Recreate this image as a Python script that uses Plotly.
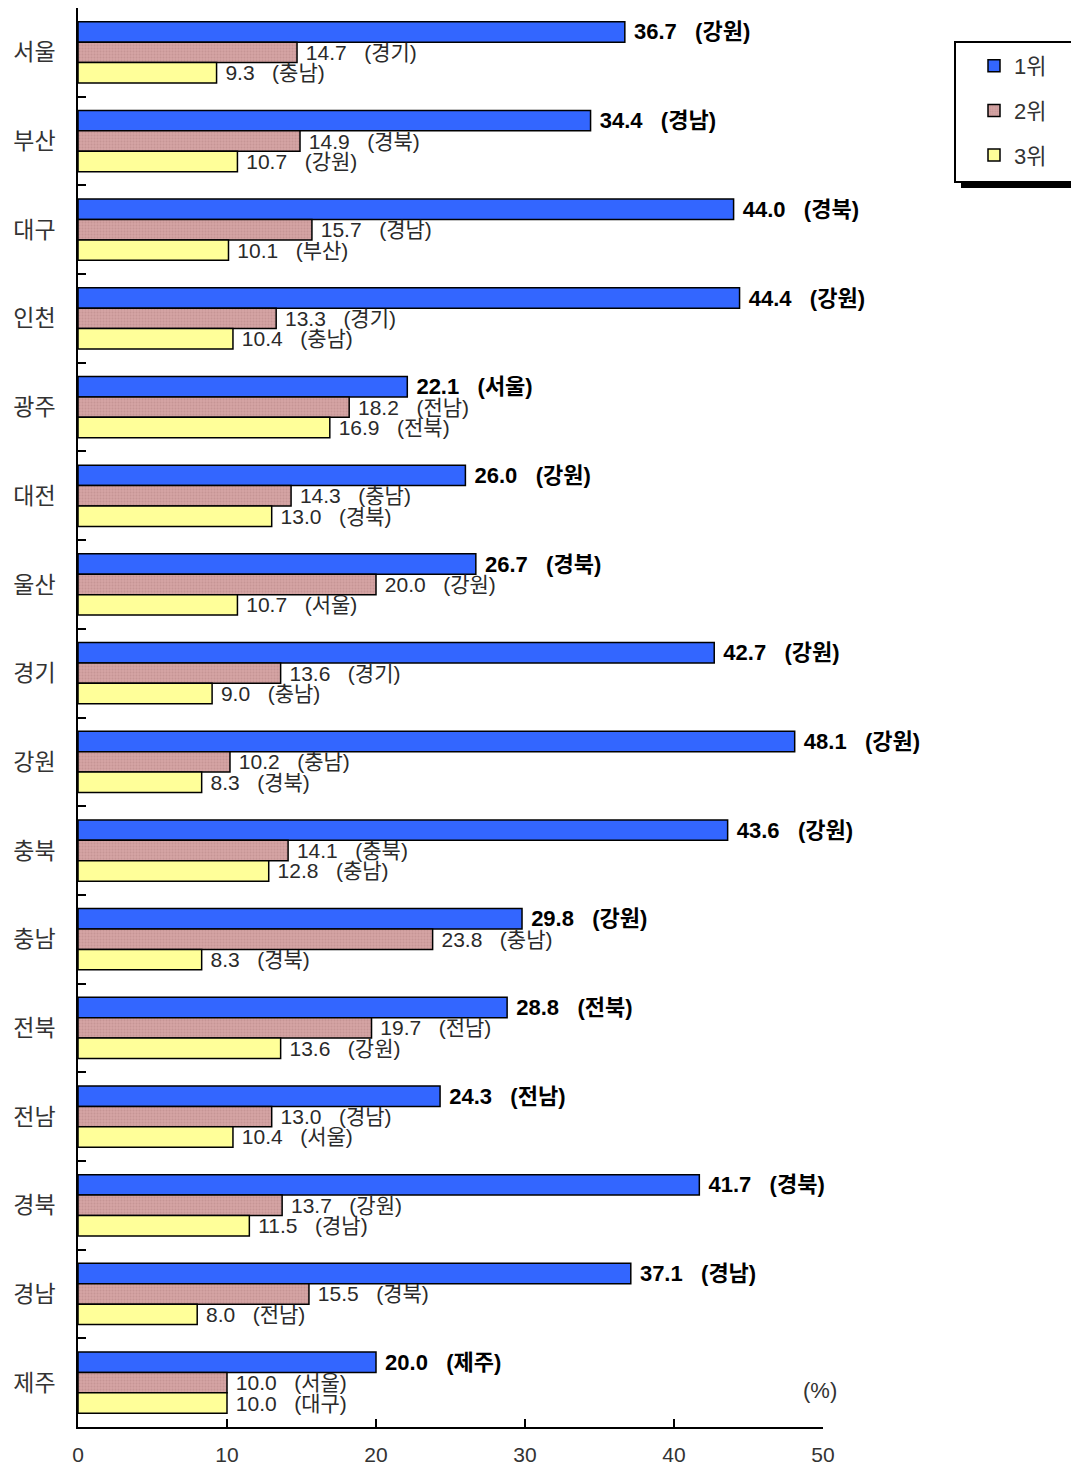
import plotly.graph_objects as go

regions = ["서울", "부산", "대구", "인천", "광주", "대전", "울산", "경기",
           "강원", "충북", "충남", "전북", "전남", "경북", "경남", "제주"]

rank1_vals = [36.7, 34.4, 44.0, 44.4, 22.1, 26.0, 26.7, 42.7, 48.1, 43.6, 29.8, 28.8, 24.3, 41.7, 37.1, 20.0]
rank1_dest = ["강원", "경남", "경북", "강원", "서울", "강원", "경북", "강원", "강원", "강원", "강원", "전북", "전남", "경북", "경남", "제주"]
rank2_vals = [14.7, 14.9, 15.7, 13.3, 18.2, 14.3, 20.0, 13.6, 10.2, 14.1, 23.8, 19.7, 13.0, 13.7, 15.5, 10.0]
rank2_dest = ["경기", "경북", "경남", "경기", "전남", "충남", "강원", "경기", "충남", "충북", "충남", "전남", "경남", "강원", "경북", "서울"]
rank3_vals = [9.3, 10.7, 10.1, 10.4, 16.9, 13.0, 10.7, 9.0, 8.3, 12.8, 8.3, 13.6, 10.4, 11.5, 8.0, 10.0]
rank3_dest = ["충남", "강원", "부산", "충남", "전북", "경북", "서울", "충남", "경북", "충남", "경북", "강원", "서울", "경남", "전남", "대구"]

series_names = ["1위", "2위", "3위"]
x_ticks = [0, 10, 20, 30, 40, 50]
unit_label = "(%)"

FONT = "Liberation Sans, Noto Sans CJK KR, sans-serif"

# page body has an 8px margin; figure sized to fit the 1079x1477 window exactly
OFF = 8
W, H = 1079 - 2 * OFF, 1477 - 2 * OFF
PL, PT, PR, PB = 78 - OFF, 8 - OFF, 823 - OFF, 1427 - OFF
L, T, R, B = PL, PT, W - PR, H - PB
pw, ph = PR - PL, PB - PT


def px_x(p):
    return (p - OFF - PL) / pw


def px_y(p):
    return (PB - (p - OFF)) / ph


NB = "\u00a0"

fig = go.Figure()

series = [
    (rank1_vals, rank1_dest, "#3366FF", True),
    (rank2_vals, rank2_dest, "#D4A3A3", False),
    (rank3_vals, rank3_dest, "#FFFF99", False),
]

for i, (vals, dest, color, bold) in enumerate(series):
    texts = []
    for v, d in zip(vals, dest):
        t = f"{NB}{v:.1f}{NB*3}({d})"
        texts.append(f"<b>{t}</b>" if bold else t)
    marker = dict(color=color, line=dict(color="black", width=1.5))
    if i == 1:
        marker["pattern"] = dict(shape=".", fgcolor="#B88888", bgcolor=color, size=3, solidity=0.35)
    fig.add_trace(go.Bar(
        y=regions, x=vals, orientation="h", name=series_names[i],
        legendgroup=f"g{i}",
        marker=marker,
        text=texts, textposition="outside", constraintext="none",
        cliponaxis=False,
        textfont=dict(family=FONT, size=22 if bold else 21,
                      color="black" if bold else "#2a2a2a"),
    ))

fig.update_layout(
    width=W, height=H,
    margin=dict(l=L, r=R, t=T, b=B, autoexpand=False),
    paper_bgcolor="white", plot_bgcolor="white",
    barmode="group", bargap=0.31, bargroupgap=0,
    font=dict(family=FONT, size=22, color="#333333"),
    showlegend=True,
    legend=dict(x=px_x(974), y=px_y(45), xanchor="left", yanchor="top",
                bgcolor="rgba(0,0,0,0)", borderwidth=0,
                font=dict(family=FONT, size=22, color="#333333"),
                tracegroupgap=13, itemwidth=30),
    xaxis=dict(range=[0, 50], tickvals=x_ticks, ticks="inside", ticklen=8,
               tickwidth=1.5, tickcolor="black", showline=True, linecolor="black",
               linewidth=1.5, showgrid=False, zeroline=False, ticklabelstandoff=8,
               automargin=False, tickfont=dict(size=21, color="#333333")),
    yaxis=dict(range=[15.5, -0.5], type="category", tickson="boundaries",
               ticks="inside", ticklen=8, tickwidth=1.5, tickcolor="black",
               showline=True, linecolor="black", linewidth=1.5, showgrid=False,
               ticklabelstandoff=16, automargin=False,
               tickfont=dict(size=23, color="#333333")),
    shapes=[
        dict(type="rect", xref="paper", yref="paper",
             x0=px_x(961), x1=px_x(1100), y0=px_y(188), y1=px_y(48),
             fillcolor="black", line=dict(width=0), layer="below"),
        dict(type="rect", xref="paper", yref="paper",
             x0=px_x(955), x1=px_x(1100), y0=px_y(182), y1=px_y(42),
             fillcolor="white", line=dict(color="black", width=2), layer="below"),
    ],
    annotations=[
        dict(text=unit_label, xref="paper", yref="paper", x=px_x(820), y=px_y(1390),
             xanchor="center", yanchor="middle",
             showarrow=False, font=dict(size=22, color="#333333")),
    ],
)

fig.write_html("out.html")
